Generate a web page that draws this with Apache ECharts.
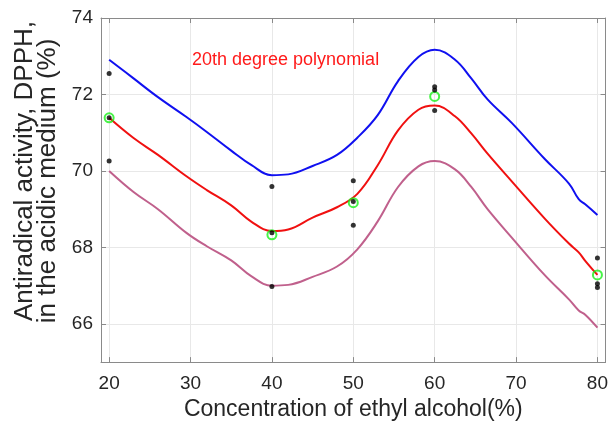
<!DOCTYPE html>
<html>
<head>
<meta charset="utf-8">
<script src="https://cdn.jsdelivr.net/npm/echarts@6/dist/echarts.min.js"></script>
<style>
html,body{margin:0;padding:0;background:#fff;}
#chart{width:611px;height:426px;}
</style>
</head>
<body>
<div id="chart"></div>
<script>
// Concentration of ethyl alcohol (%) sampled along the fitted curves
const curveX = [20, 23, 26, 29.5, 32, 35, 37.5, 40, 42, 45, 48, 50.5, 53, 55.5, 58, 60, 62.5, 64.5, 66.5, 69.5, 73.5, 76.5, 77.7, 78.5, 80];
const upperBound = [72.91, 72.42, 71.93, 71.41, 71.02, 70.53, 70.15, 69.89, 69.91, 70.13, 70.42, 70.87, 71.46, 72.35, 72.98, 73.17, 72.91, 72.42, 71.87, 71.25, 70.32, 69.67, 69.26, 69.13, 68.85];
const polyFit = [71.39, 70.86, 70.42, 69.86, 69.5, 69.1, 68.67, 68.43, 68.47, 68.78, 69.05, 69.4, 70.15, 71.06, 71.6, 71.71, 71.43, 70.98, 70.45, 69.72, 68.76, 68.1, 67.87, 67.65, 67.28];
const lowerBound = [70.0, 69.45, 69.0, 68.38, 68.03, 67.66, 67.24, 67.0, 67.02, 67.23, 67.5, 67.95, 68.68, 69.58, 70.12, 70.26, 70.04, 69.58, 69.0, 68.25, 67.28, 66.64, 66.35, 66.24, 65.9];

// Measured points
const concentrations = [20, 40, 50, 60, 80];
const replicate1 = [72.55, 69.59, 69.74, 72.2, 67.72];
const replicate2 = [71.39, 68.38, 69.2, 72.12, 67.05];
const replicate3 = [70.26, 66.98, 68.58, 71.58, 66.95];
const means = [71.39, 68.33, 69.17, 71.95, 67.28];

// Tick labels
const xTicks = [20, 30, 40, 50, 60, 70, 80];
const yTicks = [66, 68, 70, 72, 74];

// Texts
const xName = 'Concentration of ethyl alcohol(%)';
const yNameLine1 = 'Antiradical activity, DPPH,';
const yNameLine2 = 'in the acidic medium (%)';
const annotation = '20th degree polynomial';

const zip = (xs, ys) => xs.map((x, i) => [x, ys[i]]);
const replicatePts = [].concat(zip(concentrations, replicate1), zip(concentrations, replicate2), zip(concentrations, replicate3));

const FONT = 'Liberation Sans, Arial, sans-serif';
const TXT = '#262626';
const AXC = '#8a8a8a';
const GRIDC = '#e8e8e8';

const chart = echarts.init(document.getElementById('chart'), null, {renderer: 'canvas'});

const baseX = {
  type: 'value', min: 19, max: 81, gridIndex: 0,
  axisLine: {show: true, onZero: false, lineStyle: {color: AXC, width: 1}},
  axisTick: {show: true, inside: true, length: 5, customValues: xTicks, lineStyle: {color: AXC}},
  splitLine: {show: false}
};
const baseY = {
  type: 'value', min: 65, max: 74, gridIndex: 0,
  axisLine: {show: true, onZero: false, lineStyle: {color: AXC, width: 1}},
  axisTick: {show: true, inside: true, length: 5, customValues: yTicks, lineStyle: {color: AXC}},
  splitLine: {show: false}
};

const option = {
  animation: false,
  backgroundColor: '#fff',
  grid: {left: 101, right: 4, top: 18, bottom: 63, containLabel: false, show: false},
  xAxis: [
    Object.assign({}, baseX, {
      position: 'bottom',
      splitLine: {show: true, lineStyle: {color: GRIDC, width: 1}},
      axisLabel: {show: true, customValues: xTicks, margin: 12, color: TXT, fontSize: 19, fontFamily: FONT},
      name: xName,
      nameLocation: 'middle', nameGap: 35,
      nameTextStyle: {color: TXT, fontSize: 23, fontFamily: FONT}
    }),
    Object.assign({}, baseX, {position: 'top', axisLabel: {show: false}})
  ],
  yAxis: [
    Object.assign({}, baseY, {
      position: 'left',
      splitLine: {show: true, lineStyle: {color: GRIDC, width: 1}},
      axisLabel: {show: true, customValues: yTicks, margin: 8, color: TXT, fontSize: 19, fontFamily: FONT}
    }),
    Object.assign({}, baseY, {position: 'right', axisLabel: {show: false}})
  ],
  graphic: [
    {type: 'text', left: 192, top: 51, z: 10,
      style: {text: annotation, fill: '#ff1a1a', fontSize: 18, fontFamily: FONT}},
    {type: 'text', x: 25, y: 171, rotation: Math.PI / 2, z: 10,
      style: {text: yNameLine1, fill: TXT, fontSize: 26, fontFamily: FONT, align: 'center', verticalAlign: 'middle'}},
    {type: 'text', x: 48, y: 181, rotation: Math.PI / 2, z: 10,
      style: {text: yNameLine2, fill: TXT, fontSize: 26, fontFamily: FONT, align: 'center', verticalAlign: 'middle'}}
  ],
  series: [
    {type: 'line', name: 'upper', data: zip(curveX, upperBound), smooth: 0.4, showSymbol: false, lineStyle: {color: '#1010f0', width: 2}, z: 2},
    {type: 'line', name: 'fit', data: zip(curveX, polyFit), smooth: 0.4, showSymbol: false, lineStyle: {color: '#f01010', width: 2}, z: 2},
    {type: 'line', name: 'lower', data: zip(curveX, lowerBound), smooth: 0.4, showSymbol: false, lineStyle: {color: '#c0608c', width: 2}, z: 2},
    {type: 'scatter', name: 'mean', data: zip(concentrations, means), symbol: 'circle', symbolSize: 9,
      itemStyle: {color: 'rgba(0,0,0,0)', borderColor: '#19f019', borderWidth: 2}, z: 3},
    {type: 'scatter', name: 'replicates', data: replicatePts, symbol: 'circle', symbolSize: 5,
      itemStyle: {color: '#000'}, z: 4}
  ]
};
chart.setOption(option);
</script>
</body>
</html>
